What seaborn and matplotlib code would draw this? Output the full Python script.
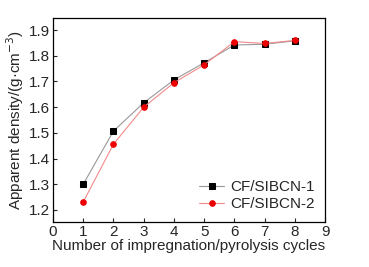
import numpy as np
import pandas as pd
import seaborn as sns
import matplotlib
matplotlib.use('Agg')
import matplotlib.pyplot as plt

# 데이터
cycles = [1, 2, 3, 4, 5, 6, 7, 8]
density_1 = [1.300, 1.507, 1.617, 1.706, 1.773, 1.842, 1.845, 1.858]
density_2 = [1.231, 1.456, 1.600, 1.695, 1.765, 1.855, 1.848, 1.860]

df = pd.DataFrame({'cycles': cycles * 2,
                   'density': density_1 + density_2,
                   'sample': ['CF/SIBCN-1'] * 8 + ['CF/SIBCN-2'] * 8})

sns.set_style('ticks')
plt.rcParams['font.family'] = ['Liberation Sans', 'DejaVu Sans']

fig = plt.figure(figsize=(3.69, 2.67), dpi=100)
ax = fig.add_axes([0.1436, 0.1685, 0.7375, 0.764])

d1 = df[df['sample'] == 'CF/SIBCN-1']
d2 = df[df['sample'] == 'CF/SIBCN-2']
sns.lineplot(x='cycles', y='density', data=d1, ax=ax, color='#999999', lw=0.8,
             marker='s', markersize=3.8, markerfacecolor='black', markeredgecolor='black',
             label='CF/SIBCN-1')
sns.lineplot(x='cycles', y='density', data=d2, ax=ax, color='#f28a8a', lw=0.8,
             marker='o', markersize=4.0, markerfacecolor='#ee0000', markeredgecolor='#ee0000',
             label='CF/SIBCN-2')

ax.set_xlim(0, 9)
ax.set_ylim(1.153, 1.947)
ax.set_xticks(range(0, 10))
ax.set_yticks([1.2, 1.3, 1.4, 1.5, 1.6, 1.7, 1.8, 1.9])
ax.set_yticklabels(['1.2', '1.3', '1.4', '1.5', '1.6', '1.7', '1.8', '1.9'])
ax.tick_params(direction='in', length=3, width=0.8, labelsize=11, pad=2)
for s in ax.spines.values():
    s.set_linewidth(0.9)
    s.set_color('black')

ax.set_xlabel('Number of impregnation/pyrolysis cycles', fontsize=11, labelpad=0)
ax.set_ylabel('Apparent density/(g·cm$^{-3}$)', fontsize=11, labelpad=2)
ax.legend(loc='lower right', frameon=False, fontsize=11, handlelength=1.6,
          handletextpad=0.4, borderaxespad=0.3, labelspacing=0.2)

fig.savefig('out.png', dpi=100)
